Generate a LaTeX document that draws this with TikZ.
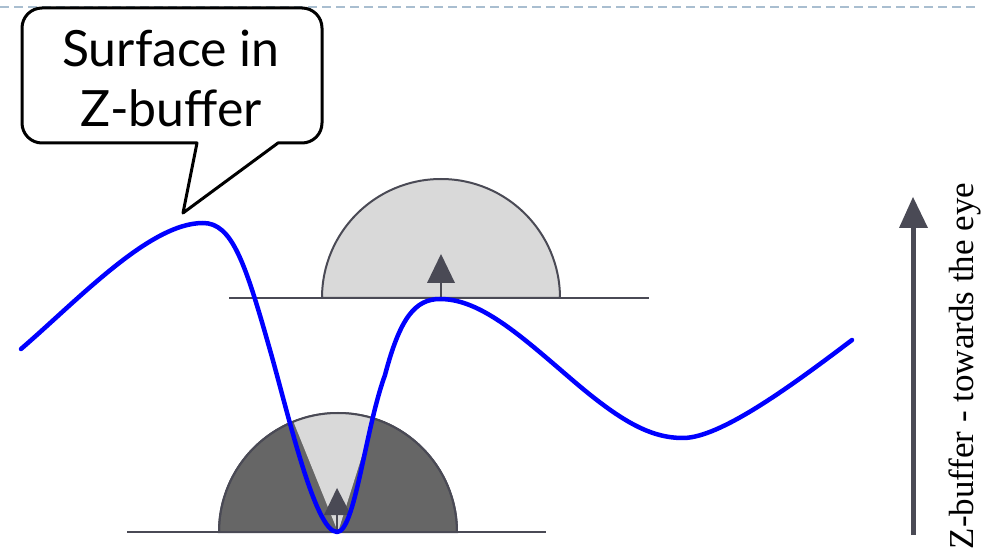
\documentclass[tikz,border=0pt]{standalone}
\usepackage{fontspec}
\setmainfont{Liberation Serif}
\newfontfamily\calloutfont{Lato}
\definecolor{dashblue}{HTML}{A9BED0}
\definecolor{darkline}{HTML}{4A4A55}
\definecolor{lightfill}{HTML}{D9D9D9}
\definecolor{darkfill}{HTML}{666666}
\begin{document}
\begin{tikzpicture}[x=1pt,y=-1pt,
  baseline/.style={draw=darkline, line width=2},
  halfdisc/.style={draw=darkline, line width=2},
  headfill/.style={fill=darkline},
  shaft/.style={draw=darkline, line width=2},
  surf/.style={draw=blue, line width=4.5, line join=round, line cap=round},
  calloutbox/.style={draw=black, line width=3, fill=white, line join=round},
  callouttext/.style={font=\calloutfont\fontsize{50}{60}\selectfont, align=center, inner sep=0},
  axislabel/.style={font=\fontsize{35}{40}\selectfont, rotate=90, inner sep=0}]
\useasboundingbox (0,0) rectangle (989,553);
% top dashed rule
\draw[dashblue, line width=2, dash pattern=on 9 off 5] (0,7) -- (978,7);
% upper half disc and base line
\filldraw[halfdisc, fill=lightfill] (322,298) arc[start angle=180, end angle=360, radius=119] -- cycle;
\draw[baseline] (229,298) -- (649,298);
% lower half disc and base line
\filldraw[halfdisc, fill=darkfill] (219,532) arc[start angle=180, end angle=360, radius=119] -- cycle;
\fill[lightfill] (338,532) -- ++(248:119) arc[start angle=248, end angle=287.5, radius=119] -- cycle;
\draw[darkline, line width=2] (219,532) arc[start angle=180, end angle=360, radius=119];
\draw[baseline] (127,532) -- (546,532);
% normal arrows
\coordinate (ua) at (441,298);
\coordinate (ub) at (441,283);
\draw[shaft] (ua) -- (ub);
\fill[headfill] (427,283) -- (455,283) -- (441,254) -- cycle;
\coordinate (la) at (337,532);
\coordinate (lb) at (337,515);
\draw[shaft] (la) -- (lb);
\fill[headfill] (324,515) -- (351,515) -- (337,488) -- cycle;
% blue surface
\draw[surf] (21,349) .. controls (80,298) and (150,223) .. (203,223)
  .. controls (232,223) and (245,262) .. (270,350)
  .. controls (288,413) and (315,532) .. (337,532)
  .. controls (355,532) and (365,430) .. (385,375)
  .. controls (400,318) and (415,299) .. (440,299)
  .. controls (480,299) and (520,335) .. (570,378)
  .. controls (620,421) and (650,438) .. (683,438)
  .. controls (720,438) and (790,387) .. (852,340);
% z-buffer axis
\coordinate (za) at (913,535);
\coordinate (zb) at (913,227);
\draw[darkline, line width=5] (za) -- (zb);
\fill[darkline] (899,228) -- (928,228) -- (913,197) -- cycle;
\node[axislabel] (zlabel) at (965,366) {Z-buffer - towards the eye};
% callout
\draw[calloutbox] (197,143) -- (183,213) -- (278,143) [rounded corners=20] -- (322,143) -- (322,8) -- (22,8) -- (22,143) [sharp corners] -- cycle;
\node[callouttext] (callout) at (171,78) {Surface in\\Z-buffer};
\end{tikzpicture}
\end{document}
